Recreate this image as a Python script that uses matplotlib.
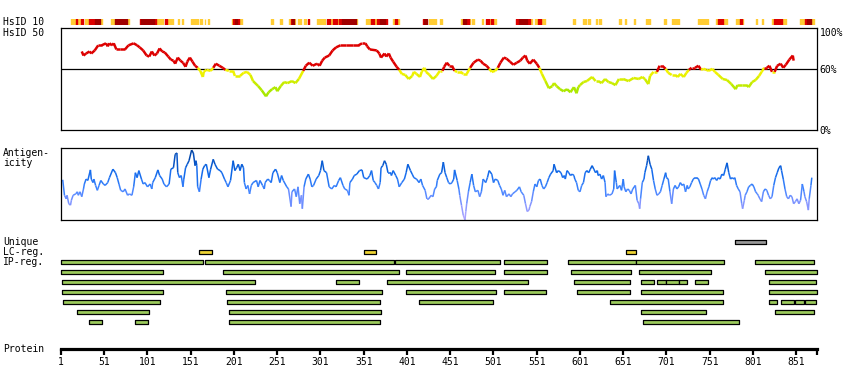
import numpy as np
import matplotlib.pyplot as plt
from matplotlib.collections import LineCollection
from matplotlib.colors import LinearSegmentedColormap, to_rgb

plt.rcParams['font.family'] = 'DejaVu Sans Mono'
plt.rcParams['font.size'] = 7

# ---- data (residue positions) ----
seq_len = 875
tick_pos = list(range(1, 852, 50))

# HsID 10 strip: (start, end) per colour level
hsid10_orange = [(13, 18), (20, 23), (29, 33), (46, 48), (59, 63), (77, 80), (111, 119), (125, 127),
                 (128, 130), (136, 137.5), (141, 142.5), (151, 159), (162, 164), (167, 168), (171, 172.5),
                 (199, 200), (207, 210), (244, 246), (254, 257), (265, 267), (270, 271), (275, 279),
                 (282, 284), (297, 306), (312, 315), (320, 322), (342, 343), (354, 359), (363, 366),
                 (385, 387), (389, 392), (426, 435), (439, 441), (464, 466), (473, 474), (476, 478),
                 (488, 489), (496, 498), (501, 504), (543, 545), (549, 552), (556, 561), (593, 595),
                 (605, 608), (610.5, 613), (619, 621), (623, 625), (646, 648), (652.5, 654.5), (663, 665),
                 (677.5, 682), (698, 700), (707, 716), (738, 743), (744, 748.5), (758.5, 760.5),
                 (766, 768), (769, 771.5), (781.5, 785.5), (788, 790), (804.5, 806), (811, 813),
                 (823, 825), (829, 830), (834, 839), (855.5, 861.5), (868, 871)]
hsid10_red = [(18, 20), (24, 26), (33, 40), (92, 94), (100, 102), (108, 111), (121, 123), (200, 202),
              (204, 207), (267, 268), (286, 288), (308, 312), (315, 320), (322, 326), (359, 363),
              (366, 370), (376, 378), (387, 389), (420, 421), (469, 473), (492, 496), (498, 501),
              (527, 530), (540, 543), (552, 556), (760.5, 766), (786, 788), (825, 829), (830, 834),
              (861.5, 863)]
hsid10_darkred = [(40, 46), (63, 77), (94, 100), (102, 108), (202, 204), (268, 270), (326, 342),
                  (370, 376), (421, 424), (466, 469), (530, 540), (863, 868)]

# HsID 50 (%)
hsid50_pos = [25, 27, 30, 34, 36, 40, 44, 48, 53, 55, 57, 60, 62, 65, 69, 75, 79, 85, 89, 92, 96, 100,
              103, 106, 109, 112, 115, 118, 121, 125, 128, 131, 133, 136, 139, 142, 145, 147, 150, 153,
              156, 159, 162, 165, 166, 169, 174, 177, 180, 184, 188, 191, 195, 200, 202, 208, 212, 216,
              220, 223, 229, 233, 238, 241, 245, 249, 251, 255, 259, 263, 268, 272, 276,
              281, 284, 288, 292, 297, 300, 303, 306, 311, 315, 319, 324, 331, 339, 345, 349, 353, 355,
              358, 366, 369, 371, 375, 377, 380, 382, 385, 389, 392, 395, 399, 403, 407, 409, 412, 416,
              418, 421, 423, 427, 431, 435, 439, 442, 444, 447, 450, 453, 456, 459, 463, 466, 470, 474,
              478, 483, 486, 489, 493, 496, 499, 503, 506, 509, 513, 516, 520, 524, 528, 532, 535, 538,
              540, 543, 547, 551, 554, 557, 561, 565, 569, 571, 574, 578, 582, 586, 590, 594, 597, 599,
              601, 605, 609, 615, 619, 622, 626, 630, 634, 638, 642, 646, 651, 657, 663, 669, 673, 676,
              680, 682, 686, 690, 693, 696, 700, 703, 707, 711, 714, 717, 721, 724, 727, 730, 734, 738,
              741, 744, 747, 750, 754, 757, 761, 766, 771, 776, 781, 783, 788, 794, 796, 800, 804, 808,
              811, 814, 817, 820, 823, 826, 829, 833, 836, 839, 843, 847, 848]
hsid50_pct = [77, 73, 75, 77, 75, 78, 83, 83, 85, 82, 85, 83, 85, 79, 79, 79, 83, 85, 83, 81, 78, 73,
              72, 77, 73, 75, 80, 77, 76, 72, 69, 68, 65, 71, 68, 66, 62, 67, 71, 67,
              63, 61, 58, 52, 57, 59, 58, 61, 65, 63, 61, 59, 58, 58, 53, 53, 56, 57,
              54, 48, 43, 39, 33, 37, 40, 42, 38, 43, 47, 46, 48, 46, 50,
              58, 63, 66, 63, 65, 63, 68, 71, 73, 78, 81, 83, 83, 83, 83, 85, 85, 82,
              79, 78, 75, 71, 75, 72, 75, 71, 67, 62, 59, 55, 54, 50, 53, 57, 55, 52,
              57, 61, 57, 54, 50, 53, 58, 58, 62, 66, 63, 63, 58, 57, 57, 55, 55, 61,
              66, 69, 68, 65, 63, 60, 57, 58, 61, 66, 71, 70, 67, 64, 66, 68, 71, 73,
              68, 65, 69, 65, 61, 55, 48, 41, 43, 46, 43, 40, 38, 40, 37, 42, 36, 42,
              44, 47, 48, 52, 48, 48, 46, 50, 47, 46, 44, 50, 50, 48, 51, 50, 52, 50,
              45, 53, 57, 57, 63, 63, 60, 56, 54, 54, 52, 55, 52, 56, 59, 61, 61, 63,
              59, 60, 59, 58, 60, 57, 54, 50, 49, 45, 40, 44, 44, 44, 42, 47, 49, 53,
              57, 61, 61, 63, 57, 57, 63, 65, 61, 64, 69, 73, 68]

# Antigenicity (relative, 0..1)
antigen_pos = [3, 5, 7, 8, 10, 12, 13, 15, 18, 20, 21, 23, 25, 27, 28, 30, 32, 35, 36, 38, 39, 41, 43, 45,
               47, 50, 52, 55, 57, 61, 64, 66, 68, 70, 73, 75, 78, 80, 83, 85, 87, 89, 91, 94, 96, 98,
               101, 104, 106, 107, 110, 113, 115, 118, 120, 123, 126, 128, 131, 133, 135, 136, 138, 140,
               142, 143, 145, 147, 149, 152, 154, 156, 157, 158, 159, 161, 163, 165, 167, 169, 172, 174,
               177, 179, 182, 185, 187, 190, 192, 194, 197, 200, 202, 204, 206, 208, 210, 212, 213, 215,
               217, 219, 221, 223, 227, 229, 231, 234, 236, 237, 240, 242, 244, 246, 249, 251, 254, 256,
               258, 262, 264, 267, 268, 271, 273, 275, 277, 279, 280, 282, 284, 287, 289, 291,
               293, 296, 299, 301, 303, 305, 308, 311, 314, 317, 319, 322, 324, 327, 329, 332, 334, 335,
               338, 340, 343, 346, 349, 351, 355, 358, 360, 362, 364, 366, 368, 370, 371, 373, 375, 377,
               379, 382, 383, 385, 388, 390, 392, 395, 398, 400, 402, 405, 407, 409, 412, 415, 417, 419,
               422, 424, 426, 429, 431, 433, 435, 436, 439, 441, 443, 445, 447, 449, 451, 453, 455, 456,
               459, 461, 462, 464, 466, 468, 469, 470, 472, 474, 476, 478, 480, 483, 485, 487, 489, 492,
               494, 496, 499, 501, 503, 506, 508, 510, 512, 514, 516, 519, 521, 523, 526, 528, 531, 533,
               536, 538, 540, 542, 543, 545, 547, 549, 551, 553, 555, 557, 559, 561, 563, 565, 567, 570,
               571, 574, 576, 579, 581, 583,
               584, 586, 588, 590, 592, 594, 595, 597, 599, 601, 603, 605, 607, 609, 611, 613, 615, 617,
               619, 621, 622, 624, 626, 628, 630, 631, 633, 635, 638, 640, 641, 643, 644, 647, 649, 651,
               652, 654, 656, 658, 660, 662, 665, 667, 669, 670, 671, 673, 675, 676, 678, 679, 680, 682,
               684, 686, 688, 690, 692, 694, 696, 698, 700, 701, 703, 705, 707, 709, 711, 713, 715, 717,
               719, 721, 723, 725, 726, 728, 730, 732, 734, 736, 738, 740, 742, 744, 746, 748, 750, 752,
               754, 755, 757, 759, 761, 763, 765, 767, 769, 771, 773, 775, 777, 779, 780, 782, 784, 786,
               788, 789, 791, 792, 794, 796, 798, 800, 802, 804, 806, 807, 809, 811, 813, 815, 817, 819,
               821, 823, 825, 827, 829, 831, 833, 834, 836, 838, 840, 842, 844, 846, 848, 850, 852, 854,
               856, 858, 860, 861, 863, 865, 866, 868, 869]
antigen_val = [.57, .35, .30, .35, .23, .21, .28, .35, .37, .40, .35, .40, .33, .44, .51, .58, .56, .71, .58,
               .53, .58, .49, .42, .49, .56, .51, .49, .53, .60, .72, .67, .60, .51, .42, .40, .44, .35, .37,
               .35, .47, .67, .60, .70, .58, .51, .53, .47, .51, .44, .53, .60, .71, .63, .58, .51, .47, .51,
               .72, .74, .93, .95, .67, .60, .63, .47, .58, .74, .79, .84, .99, .95, .77, .84, .77, .47, .40,
               .58, .72, .77, .79, .60, .72, .86, .79, .72, .70, .67, .58, .53, .47, .56, .84, .70, .74, .79,
               .70, .79, .74, .53, .44, .49, .37, .49, .53, .56, .47, .56, .49, .44, .53, .58, .56, .53, .67,
               .72, .67, .53, .63, .56, .47, .44, .19, .40, .44, .33, .47, .23, .35, .16, .47, .58, .65, .58,
               .47,
               .49, .58, .63, .70, .84, .70, .67, .47, .44, .49, .47, .56, .60, .49, .44, .42, .35, .53,
               .58, .63, .65, .70, .71, .60, .58, .63, .70, .56, .53, .49, .44, .53, .74, .77, .84, .79,
               .67, .67, .63, .70, .63, .58, .47, .53, .58, .67, .79, .70, .65, .60, .58, .53, .58, .49,
               .42, .30, .30, .35, .33, .44, .47, .56, .65, .67, .82, .67, .60, .53, .51, .53, .58, .71,
               .56, .44, .35, .21, .07, .00, .12, .23, .40, .53, .65, .49, .40, .42, .33, .40, .58, .53,
               .60, .70, .65, .53, .58, .56, .49, .44, .35, .42, .33, .37, .33, .37, .40, .42, .47, .40,
               .35, .23, .12, .14, .19, .26, .40, .51, .47, .56, .58, .49, .44, .47, .53, .60, .65, .70,
               .79, .67, .70, .67, .60, .63,
               .58, .70, .67, .63, .65, .63, .58, .53, .42, .40, .49, .53, .67, .70, .67, .72, .77, .72,
               .67, .70, .63, .65, .58, .63, .53, .33, .37, .35, .37, .44, .70, .53, .44, .49, .42, .58,
               .47, .40, .44, .42, .37, .44, .49, .28, .23, .16, .30, .53, .58, .67, .77, .84, .91, .79,
               .72, .56, .44, .35, .37, .40, .49, .58, .67, .60, .58, .40, .23, .44, .49, .44, .47, .53,
               .49, .51, .40, .49, .44, .47, .53, .58, .60, .60, .58, .51, .44, .35, .30, .40, .47, .56,
               .60, .58, .60, .56, .60, .58, .65, .63, .72, .81, .67, .58, .60, .58, .60, .49, .44, .40,
               .23, .16, .28, .35, .40, .47, .49, .51, .47, .40, .37, .35, .30, .26, .40, .44, .42, .35,
               .30, .33, .49, .60, .67, .74, .77, .70, .58, .44, .33, .30, .35, .33, .23, .26, .30, .23,
               .28, .51, .40, .33, .26, .14, .30, .49, .60]

# regions
unique_reg = [(780, 816)]
lc_reg = [(160, 175), (351, 365), (654, 666)]
ip_rows = [
    [(1, 165), (168, 386), (387, 508), (513, 563), (587, 666), (666, 768), (803, 872)],
    [(1, 119), (188, 392), (400, 503), (513, 563), (591, 660), (669, 752), (815, 875)],
    [(2, 225), (319, 345), (378, 541), (594, 659), (672, 686), (690, 701), (701, 715), (715, 725),
     (734, 749), (819, 874)],
    [(2, 119), (192, 372), (400, 504), (513, 562), (597, 659), (672, 766), (819, 875)],
    [(3, 115), (193, 370), (415, 501), (636, 766), (819, 829), (833, 848), (850, 860), (861, 874)],
    [(20, 103), (195, 371), (672, 747), (826, 872)],
    [(33, 48), (87, 102), (195, 370), (674, 785)],
]

# ---- layout helpers (pixel boxes) ----
W, H = 850, 390


def box(x0, y0, x1, y1):
    return [x0 / W, 1 - y1 / H, (x1 - x0) / W, (y1 - y0) / H]


def hsid_color(v):
    if v >= 60:
        return '#dd0000'
    t = min(max((56 - v) / 18.0, 0), 1)
    a, b = np.array(to_rgb('#f2f200')), np.array(to_rgb('#a8e800'))
    return tuple(a + (b - a) * t)


def segments(x, y):
    pts = np.column_stack([x, y])
    return np.stack([pts[:-1], pts[1:]], axis=1), (pts[:-1, 1] + pts[1:, 1]) / 2


fig = plt.figure(figsize=(8.5, 3.9), dpi=100)
xlim = (1, seq_len)
X0, X1 = 61, 817

# HsID 10 strip
ax10 = fig.add_axes(box(X0, 19, X1, 25))
for segs, col in [(hsid10_orange, '#ffcc33'), (hsid10_red, '#dd0000'), (hsid10_darkred, '#a00000')]:
    ax10.broken_barh([(s, e - s) for s, e in segs], (0, 1), color=col)
ax10.set_xlim(xlim)
ax10.set_ylim(0, 1)
ax10.axis('off')

# HsID 50
ax50 = fig.add_axes(box(X0, 28, X1, 130))
segs, mid = segments(hsid50_pos, hsid50_pct)
ax50.add_collection(LineCollection(segs, colors=[hsid_color(v) for v in mid], lw=1.8))
ax50.axhline(60, color='black', lw=0.9, zorder=0)
ax50.set_xlim(xlim)
ax50.set_ylim(0, 100)
ax50.set_xticks([])
ax50.yaxis.tick_right()
ax50.set_yticks([0, 60, 100], ['0%', '60%', '100%'])
ax50.tick_params(axis='y', length=0, pad=2)
ax50.get_yticklabels()[-1].set_va('top')
for s in ax50.spines.values():
    s.set_linewidth(0.9)

# Antigenicity
cmap = LinearSegmentedColormap.from_list('ag', [(0, '#b4a8ff'), (0.25, '#7f93ff'), (0.45, '#3d84ff'),
                                               (0.7, '#0c66e8'), (1.0, '#003c96')])
axa = fig.add_axes(box(X0, 148, X1, 220))
segs, mid = segments(antigen_pos, antigen_val)
axa.add_collection(LineCollection(segs, colors=cmap(mid), lw=1.1))
axa.set_xlim(xlim)
axa.set_ylim(0, 1.02)
axa.set_xticks([])
axa.set_yticks([])
for s in axa.spines.values():
    s.set_linewidth(0.9)

# Regions
axr = fig.add_axes(box(X0, 237, X1, 327))
axr.set_xlim(xlim)
axr.set_ylim(8.5, -0.5)
axr.axis('off')
bh = 0.45
axr.broken_barh([(s, e - s) for s, e in unique_reg], (0 - bh / 2, bh),
                facecolor='#999999', edgecolor='black', lw=0.9, clip_on=False)
axr.broken_barh([(s, e - s) for s, e in lc_reg], (1 - bh / 2, bh),
                facecolor='#eed433', edgecolor='black', lw=0.9, clip_on=False)
for i, row in enumerate(ip_rows):
    axr.broken_barh([(s, e - s) for s, e in row], (2 + i - bh / 2, bh),
                    facecolor='#9ccb5c', edgecolor='black', lw=0.9, clip_on=False)

# Protein axis
axp = fig.add_axes(box(X0, 347, X1, 349))
axp.set_xlim(xlim)
axp.set_yticks([])
for side in ['top', 'left', 'right']:
    axp.spines[side].set_visible(False)
axp.spines['bottom'].set_linewidth(2.3)
axp.set_xticks(tick_pos + [seq_len], [str(t) for t in tick_pos] + [''])
axp.tick_params(axis='x', direction='out', length=4, width=1.6, pad=2)
axp.patch.set_visible(False)

# left labels
for txt, y in [('HsID 10', 22), ('HsID 50', 33), ('Antigen-', 153), ('icity', 163),
               ('Unique', 242), ('LC-reg.', 252), ('IP-reg.', 262), ('Protein', 349)]:
    fig.text(3 / W, 1 - y / H, txt, va='center', ha='left')

fig.savefig('out.png', dpi=100)
